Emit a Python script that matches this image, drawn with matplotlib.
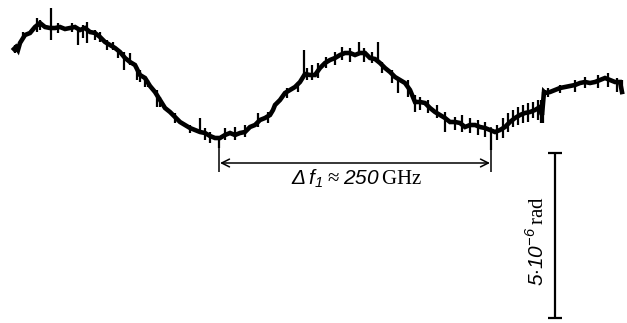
import numpy as np
import matplotlib.pyplot as plt

plt.rcParams['font.family'] = ['Liberation Serif', 'DejaVu Serif']
plt.rcParams['mathtext.fontset'] = 'custom'
plt.rcParams['mathtext.rm'] = 'Liberation Serif'
plt.rcParams['mathtext.sf'] = 'Liberation Sans:italic'

# digitised scan (horizontal position, vertical deflection; y grows downwards)
scan_x = [14, 16, 18, 20, 25, 30, 35, 40, 45, 50, 55, 60, 65, 70, 75, 80, 85, 90,
          95, 100, 105, 110, 115, 120, 125, 130, 135, 140, 145, 150, 155, 160, 165,
          170, 175, 180, 185, 190, 195, 200, 205, 210, 215, 220, 225, 230, 235, 240,
          245, 250, 255, 260, 265, 270, 273, 275, 280, 285, 290, 295, 300, 305, 310,
          315, 320, 325, 330, 335, 340, 345, 350, 355, 360, 365, 370, 375, 380, 385,
          390, 395, 400, 405, 410, 415, 420, 425, 430, 435, 440, 445, 450, 455, 460,
          465, 470, 475, 480, 485, 490, 495, 500, 505, 510, 515, 520, 525, 530, 535,
          540, 542, 544, 545, 550, 555, 560, 565, 570, 575, 580, 585, 590, 595, 600,
          605, 610, 615, 620, 622]
scan_y = [49, 47, 50, 43, 35, 33, 27, 23, 27, 28, 28, 27, 29, 28, 27, 30, 28, 32,
          33, 37, 42, 45, 48, 52, 58, 62, 65, 75, 78, 86, 92, 100, 108,
          112, 117, 122, 125, 128, 130, 132, 133, 136, 138, 138, 135, 133, 135, 133,
          132, 127, 125, 120, 118, 115, 110, 105, 100, 93, 90, 87, 82, 74, 75,
          75, 68, 63, 60, 58, 55, 53, 53, 55, 53, 53, 58, 59, 63, 68,
          72, 77, 80, 83, 90, 102, 102, 103, 108, 112, 115, 118, 122, 122, 123,
          127, 125, 125, 127, 128, 130, 132, 130, 127, 122, 118, 115, 113, 112, 110,
          107, 115, 92, 93, 92, 90, 88, 87, 86, 85, 83, 82, 83, 82, 80,
          78, 80, 82, 82, 92]

# noise strokes: position, top, bottom
spike_x = [15, 17, 23, 37, 40, 51, 58, 72, 78, 83, 87, 95, 100, 107, 113, 118, 124,
           130, 137, 140, 145, 148, 157, 160, 175, 190, 200, 205, 210, 219, 225, 235,
           245, 258, 268, 287, 298, 304, 307, 312, 318, 326, 335, 342, 350, 359, 364,
           372, 378, 382, 392, 398, 408, 415, 420, 428, 437, 445, 455, 462, 470, 478,
           485, 491, 497, 503, 508, 513, 518, 523, 528, 533, 538, 541, 543, 548, 560,
           575, 585, 598, 608, 617, 622]
spike_top = [45, 46, 32, 18, 20, 8, 23, 23, 27, 25, 22, 30, 32, 40, 42, 50, 52,
             53, 67, 70, 77, 80, 90, 97, 113, 125, 118, 128, 132, 138, 128, 127,
             125, 113, 112, 88, 82, 50, 68, 65, 63, 57, 52, 47, 48, 42, 48,
             52, 42, 62, 70, 80, 80, 95, 97, 100, 105, 112, 117, 115, 118, 120,
             122, 130, 125, 118, 113, 110, 107, 105, 103, 102, 100, 100, 92, 88, 85,
             80, 77, 75, 73, 78, 80]
spike_bot = [53, 52, 38, 32, 30, 40, 33, 32, 45, 38, 43, 40, 42, 50, 50, 58, 70,
             65, 80, 82, 87, 87, 107, 107, 123, 133, 132, 140, 143, 148, 140, 140,
             137, 127, 123, 98, 92, 77, 80, 80, 78, 68, 65, 60, 62, 55, 62,
             63, 60, 73, 83, 93, 97, 112, 110, 113, 118, 132, 130, 132, 133, 135,
             137, 150, 140, 138, 132, 127, 125, 123, 122, 118, 120, 123, 123, 97, 93,
             92, 88, 88, 87, 92, 92]

# period marker and phase scale bar
period_start, period_end = 219, 491
period_label = r'$\mathsf{\Delta\, f}_{\mathsf{1}}\approx\mathsf{250}\,\mathrm{GHz}$'
scale_x = 555
scale_top, scale_bot = 153, 318
scale_label = r'$\mathsf{5{\cdot}10}^{\mathsf{-6}}\,\mathrm{rad}$'

fig = plt.figure(figsize=(6.27, 3.23), dpi=100)
ax = fig.add_axes([0, 0, 1, 1])
ax.set_xlim(0, 627)
ax.set_ylim(323, 0)
ax.axis('off')

ax.plot(scan_x, scan_y, color='black', lw=3.3, solid_joinstyle='miter')
ax.vlines(spike_x, spike_top, spike_bot, color='black', lw=1.6)

# frequency period
ax.vlines([period_start], 136, 172, color='black', lw=1.1)
ax.vlines([period_end], 127, 172, color='black', lw=1.1)
ax.annotate('', xy=(period_start + 1, 163), xytext=(period_end - 1, 163),
            arrowprops=dict(arrowstyle='<->', color='black', lw=1.1,
                            mutation_scale=14, shrinkA=0, shrinkB=0))
ax.text((period_start + period_end) / 2 + 2, 179, period_label, fontsize=15,
        ha='center', va='center')

# phase scale
ax.vlines([scale_x], scale_top, scale_bot, color='black', lw=1.6)
ax.hlines([scale_top, scale_bot], scale_x - 7, scale_x + 7, color='black', lw=1.6)
ax.text(scale_x - 18, (scale_top + scale_bot) / 2 + 6, scale_label, fontsize=15,
        rotation=90, ha='center', va='center')

fig.savefig('out.png', dpi=100, facecolor='white')
